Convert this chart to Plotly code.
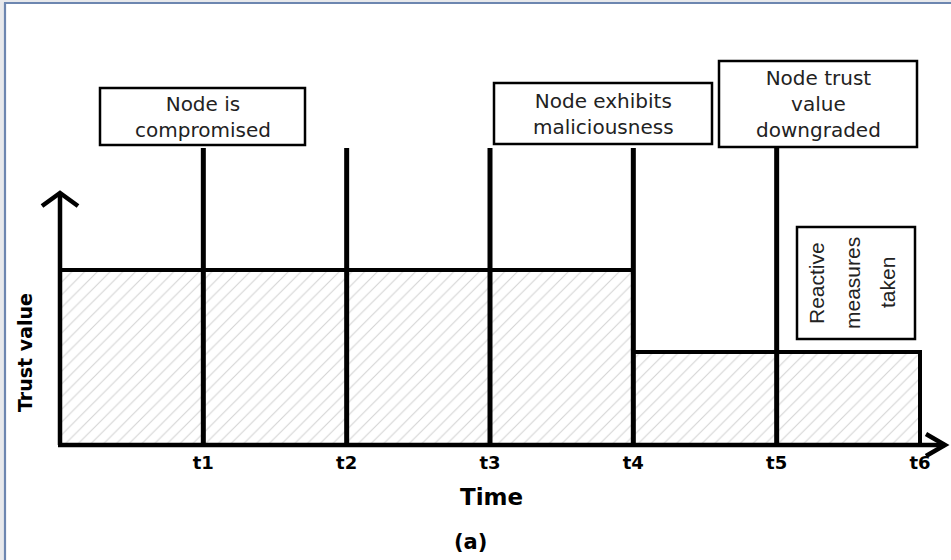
import plotly.graph_objects as go

# ---------------- data ----------------
time_ticks = [1, 2, 3, 4, 5, 6]
tick_labels = ["t1", "t2", "t3", "t4", "t5", "t6"]
period_mid = [0.5, 1.5, 2.5, 3.5, 4.5, 5.5]
trust_value = [100, 100, 100, 100, 53, 53]
event_times = [1, 2, 3, 4, 5]

box_texts = [
    ["Node is", "compromised"],
    ["Node exhibits", "maliciousness"],
    ["Node trust", "value", "downgraded"],
]
reactive_text = ["Reactive", "measures", "taken"]

# ---------------- layout helpers (pixel -> data) ----------------
W, H = 951, 560
X0_PX, PX_PER_T = 60.0, (920.0 - 60.0) / 6.0
BASE_PY, PX_PER_V = 445.0, 1.75


def xd(px):
    return (px - X0_PX) / PX_PER_T


def yd(py):
    return (BASE_PY - py) / PX_PER_V


EVENT_TOP = yd(148)
Y_ARROW_TOP = yd(193)
X_ARROW_END = xd(945)

fig = go.Figure()

# hatched trust-value bars
fig.add_trace(go.Bar(
    x=period_mid, y=trust_value, width=1,
    marker=dict(color="white",
                line=dict(color="black", width=4),
                pattern=dict(shape="/", fgcolor="#a8a8a8", bgcolor="white",
                             size=9, solidity=0.12)),
    showlegend=False, hoverinfo="skip",
))

# event lines
ex, ey = [], []
for t in event_times:
    ex += [t, t, None]
    ey += [0, EVENT_TOP, None]
fig.add_trace(go.Scatter(x=ex, y=ey, mode="lines",
                         line=dict(color="black", width=5),
                         showlegend=False, hoverinfo="skip"))

# axes with arrows
fig.add_trace(go.Scatter(
    x=[0, 0, None, xd(42), 0, xd(78), None, xd(58), X_ARROW_END, None,
       xd(926), X_ARROW_END, xd(926)],
    y=[0, Y_ARROW_TOP, None, yd(206), Y_ARROW_TOP, yd(206), None, 0, 0, None,
       yd(434), 0, yd(456)],
    mode="lines", line=dict(color="black", width=4.5),
    showlegend=False, hoverinfo="skip"))

shapes = []
annotations = []
TXT = dict(family="DejaVu Sans", size=20, color="#222222")

box_rects = [(100, 88, 305, 145), (494, 83, 712, 144), (719, 61, 917, 147)]
box_cx = [203, 603, 818]
for (x0, y0, x1, y1), cx, lines in zip(box_rects, box_cx, box_texts):
    shapes.append(dict(type="rect", xref="x", yref="y", x0=xd(x0), x1=xd(x1),
                       y0=yd(y1), y1=yd(y0), line=dict(color="black", width=2.5),
                       fillcolor="white", layer="above"))
    annotations.append(dict(x=xd(cx), y=yd((y0 + y1) / 2), xref="x", yref="y",
                            text="<br>".join(lines), showarrow=False, font=TXT,
                            xanchor="center", yanchor="middle", align="center"))

# reactive measures box
shapes.append(dict(type="rect", xref="x", yref="y", x0=xd(797), x1=xd(915),
                   y0=yd(339), y1=yd(227), line=dict(color="black", width=2.5),
                   fillcolor="white", layer="above"))
for lx, s in zip([816, 852, 887], reactive_text):
    annotations.append(dict(x=xd(lx), y=yd(283), xref="x", yref="y", text=s,
                            showarrow=False, textangle=-90,
                            font=dict(family="Liberation Sans", size=21, color="#222222"),
                            xanchor="center", yanchor="middle"))

# axis titles and caption
annotations.append(dict(x=xd(25), y=yd(353), xref="x", yref="y", text="<b>Trust value</b>",
                        showarrow=False, textangle=-90,
                        font=dict(family="DejaVu Sans", size=19, color="black"),
                        xanchor="center", yanchor="middle"))
annotations.append(dict(x=xd(491), y=yd(497), xref="x", yref="y", text="<b>Time</b>",
                        showarrow=False,
                        font=dict(family="DejaVu Sans", size=23, color="black"),
                        xanchor="center", yanchor="middle"))
annotations.append(dict(x=xd(470), y=yd(542), xref="x", yref="y", text="<b>(a)</b>",
                        showarrow=False,
                        font=dict(family="DejaVu Sans", size=21, color="black"),
                        xanchor="center", yanchor="middle"))

# image frame
shapes.append(dict(type="rect", xref="paper", yref="paper", x0=0, x1=4 / W, y0=0, y1=1,
                   line=dict(width=0), fillcolor="#e8e9ec", layer="below"))
shapes.append(dict(type="rect", xref="paper", yref="paper", x0=0, x1=1, y0=1 - 2 / H, y1=1,
                   line=dict(width=0), fillcolor="#e8e9ec", layer="below"))
shapes.append(dict(type="line", xref="paper", yref="paper", x0=5 / W, x1=5 / W, y0=0,
                   y1=1 - 2.5 / H, line=dict(color="#6d86b0", width=2.2)))
shapes.append(dict(type="line", xref="paper", yref="paper", x0=4 / W, x1=1,
                   y0=1 - 3 / H, y1=1 - 3 / H, line=dict(color="#6d86b0", width=2.2)))

fig.update_layout(
    width=W, height=H,
    margin=dict(l=0, r=0, t=0, b=0),
    paper_bgcolor="white", plot_bgcolor="white",
    shapes=shapes, annotations=annotations,
    bargap=0,
    xaxis=dict(range=[xd(0), xd(W)], showgrid=False, zeroline=False, showline=False,
               tickvals=time_ticks, ticktext=tick_labels, ticks="",
               tickfont=dict(family="DejaVu Sans", size=18, color="black", weight="bold"),
               anchor="free", position=(H - BASE_PY) / H, ticklabelstandoff=5,
               fixedrange=True),
    yaxis=dict(range=[yd(H), yd(0)], showgrid=False, zeroline=False, showline=False,
               showticklabels=False, ticks="", fixedrange=True),
)

fig.write_html("out.html", config={"displayModeBar": False},
               post_script="document.body.style.margin='0';document.body.style.overflow='hidden';")
